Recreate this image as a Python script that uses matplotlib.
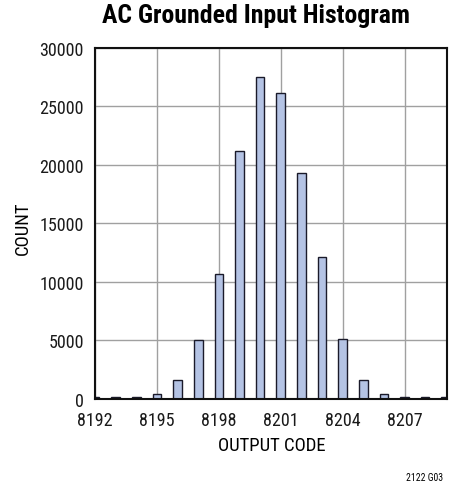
import matplotlib
matplotlib.use("Agg")
import matplotlib.pyplot as plt

plt.rcParams['font.family'] = ['Roboto Condensed', 'Archivo Narrow', 'DejaVu Sans']

codes = [8192, 8193, 8194, 8195, 8196, 8197, 8198, 8199, 8200,
         8201, 8202, 8203, 8204, 8205, 8206, 8207, 8208, 8209]
counts = [200, 200, 200, 450, 1600, 5000, 10700, 21230, 27500,
          26140, 19320, 12100, 5100, 1600, 450, 200, 200, 200]

xticks = [8192, 8195, 8198, 8201, 8204, 8207]
yticks = [0, 5000, 10000, 15000, 20000, 25000, 30000]

fig = plt.figure(figsize=(4.55, 4.89), dpi=100)
ax = fig.add_axes([0.209, 0.182, 0.773, 0.718])

ax.bar(codes, counts, width=0.42, color='#b4c3e4', edgecolor='#1a1a2a',
       linewidth=1.0, zorder=3)

ax.set_xlim(8192, 8209.05)
ax.set_ylim(0, 30000)
ax.set_xticks(xticks)
ax.set_yticks(yticks)
ax.grid(True, color='#a0a0a0', linewidth=1.0, zorder=0)
ax.tick_params(length=0, labelsize=13, colors='#1a1a1a')
ax.tick_params(axis='x', pad=8.5)
ax.tick_params(axis='y', pad=8)
for s in ax.spines.values():
    s.set_linewidth(1.5)
    s.set_color('#111111')
    s.set_zorder(4)

ax.set_xlabel('OUTPUT CODE', fontsize=13.5)
ax.set_ylabel('COUNT', fontsize=13.5)
ax.xaxis.set_label_coords(0.503, -0.105)
ax.yaxis.set_label_coords(-0.179, 0.49)

fig.text(256 / 455, 1 - 16 / 489, 'AC Grounded Input Histogram',
         ha='center', va='center', fontsize=18.5, fontweight='bold')
fig.text(443 / 455, 1 - 478 / 489, '2122 G03', ha='right', va='center',
         fontsize=7)

fig.savefig('out.png', dpi=100)
